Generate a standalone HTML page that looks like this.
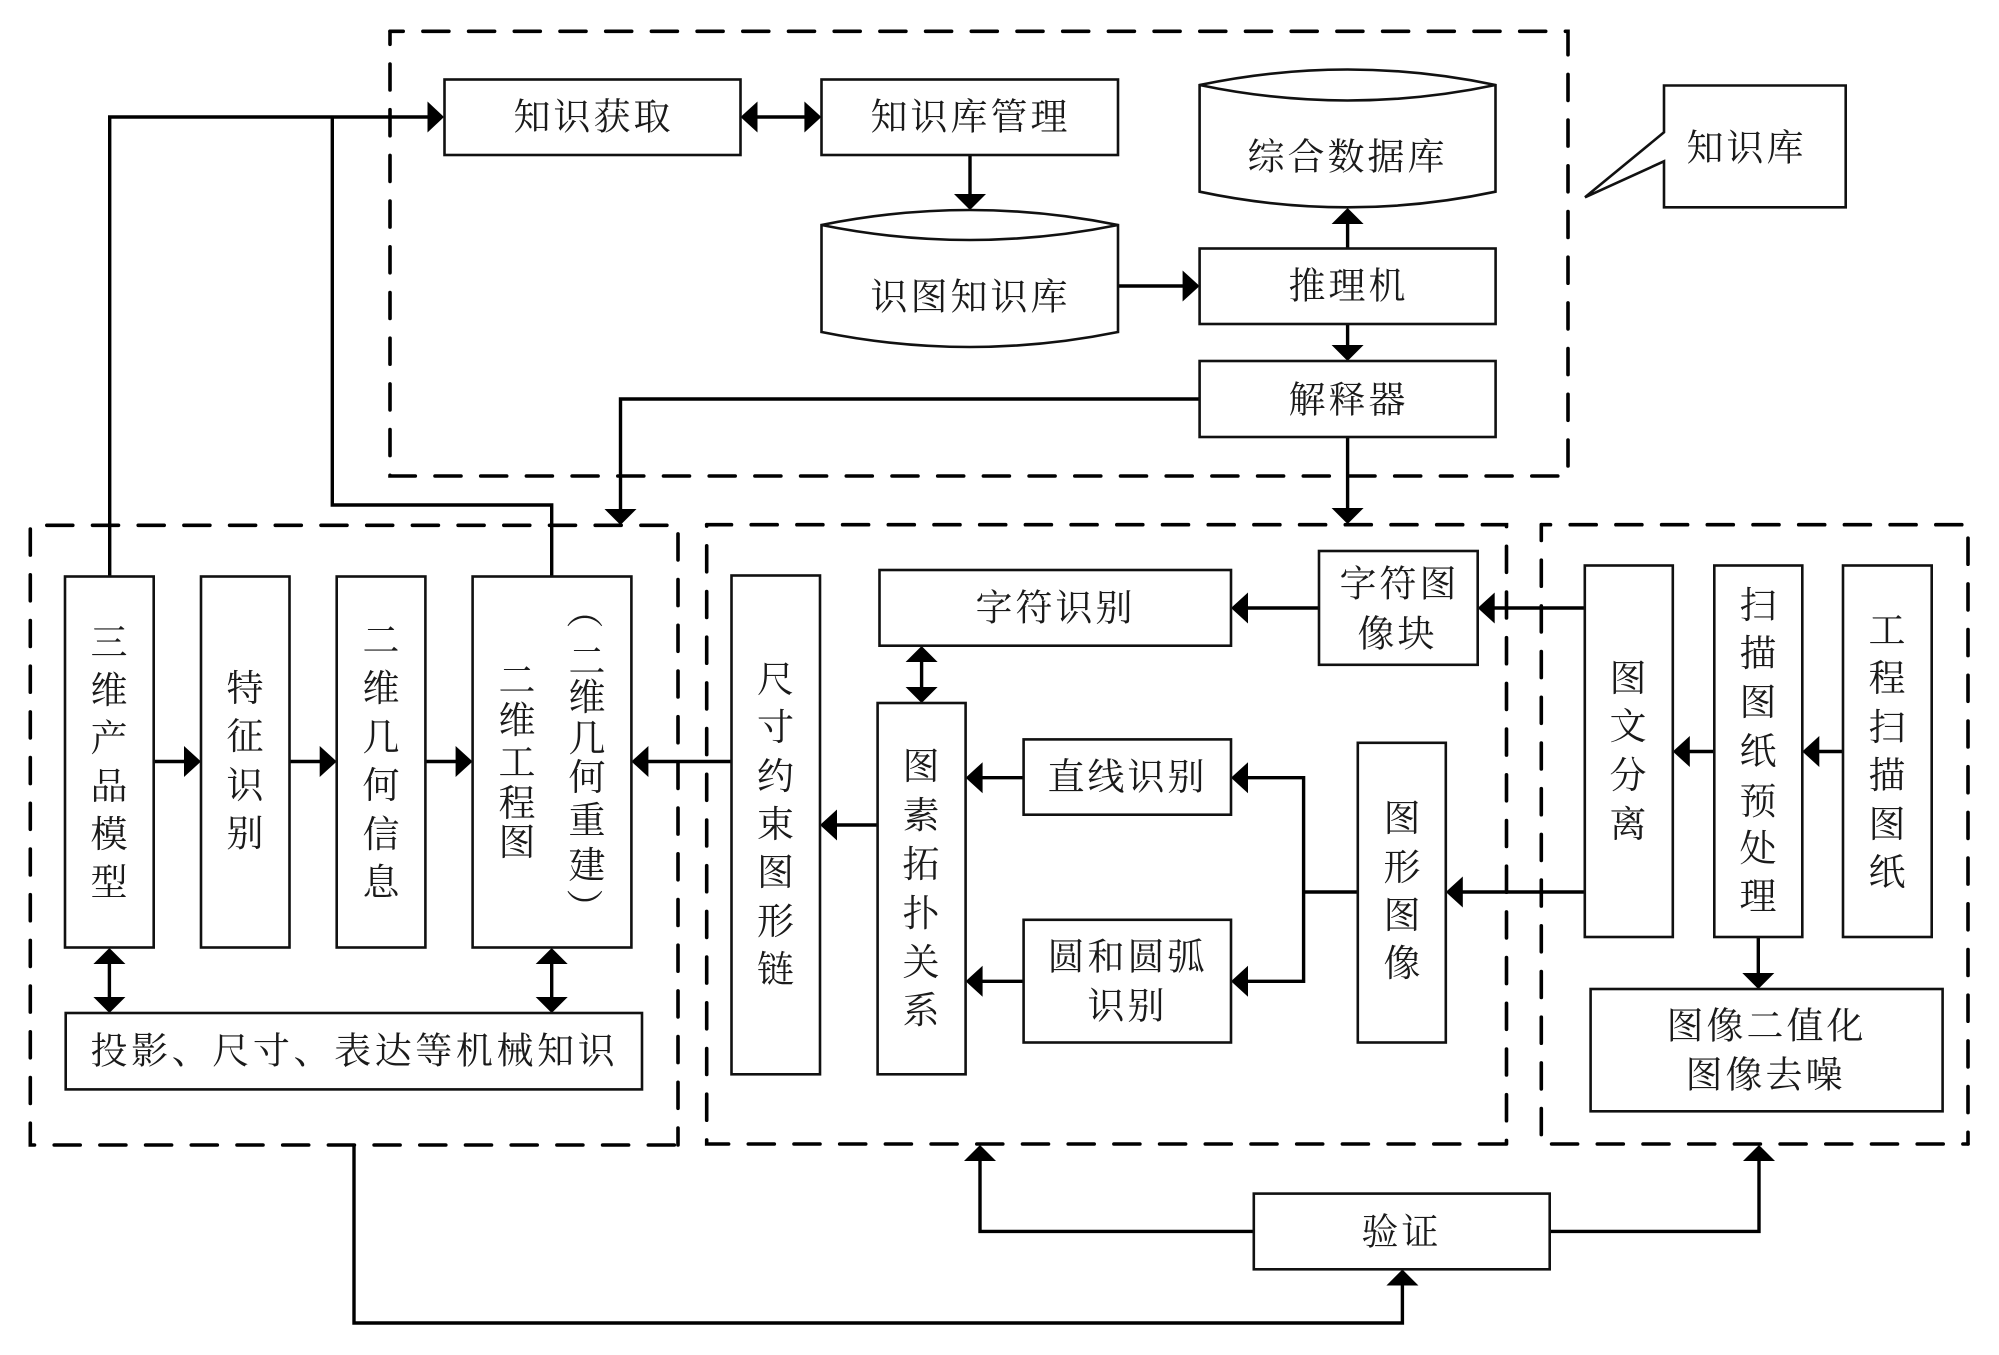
<!DOCTYPE html>
<html><head><meta charset="utf-8"><style>
html,body{margin:0;padding:0;background:#fff}
svg{display:block}
text{font-family:"Noto Serif CJK SC","Liberation Serif",serif;font-size:37px;fill:#1a1a1a;text-anchor:middle;dominant-baseline:central;font-weight:400}
.b{fill:#fff;stroke:#111;stroke-width:2.6}
.c{fill:none;stroke:#000;stroke-width:3.4}
.d{fill:none;stroke:#000;stroke-width:3.6;stroke-dasharray:26 19.7;stroke-linecap:round}
polygon.a{fill:#000}
</style></head><body>
<svg width="1999" height="1355" viewBox="0 0 1999 1355" xmlns="http://www.w3.org/2000/svg">
<rect width="1999" height="1355" fill="#fff"/>
<!-- dashed groups -->
<path class="d" stroke-dashoffset="12.8" d="M390 31.3H1568V476"/>
<path class="d" stroke-dashoffset="13" d="M390 31.3V476H1568"/>
<path class="d" stroke-dashoffset="29.2" d="M30.3 525.3H678V1145"/>
<path class="d" stroke-dashoffset="41.9" d="M30.3 525.3V1145H678"/>
<path class="d" stroke-dashoffset="1.2" d="M706.7 524.7H1506.5V1144"/>
<path class="d" stroke-dashoffset="24.6" d="M706.7 524.7V1144H1506.5"/>
<path class="d" stroke-dashoffset="16.8" d="M1541.3 524.7H1968V1144"/>
<path class="d" stroke-dashoffset="10.2" d="M1541.3 524.7V1144H1968"/>
<!-- connectors -->
<path class="c" d="M109.7 576V117H430"/>
<path class="c" d="M332.3 117V505H551.7V576"/>
<path class="c" d="M745 117H816"/>
<path class="c" d="M970 155V198"/>
<path class="c" d="M1118 286H1185"/>
<path class="c" d="M1347.6 248V222"/>
<path class="c" d="M1347.6 324V348"/>
<path class="c" d="M1199.6 399H620.5V512"/>
<path class="c" d="M1347.6 437V512"/>
<path class="c" d="M153.7 761.5H188"/>
<path class="c" d="M289.5 761.5H324"/>
<path class="c" d="M425.4 761.5H460"/>
<path class="c" d="M731.5 761.5H645"/>
<path class="c" d="M109.4 955V1005"/>
<path class="c" d="M551.7 955V1005"/>
<path class="c" d="M354 1145V1323H1402.4V1282"/>
<path class="c" d="M1253.8 1231.4H980V1158"/>
<path class="c" d="M1549.7 1231.4H1759V1158"/>
<path class="c" d="M877.6 825H833"/>
<path class="c" d="M921.6 655V695"/>
<path class="c" d="M1319 608H1245"/>
<path class="c" d="M1585 608H1490"/>
<path class="c" d="M1023.6 777.7H978"/>
<path class="c" d="M1023.6 981.3H978"/>
<path class="c" d="M1245 777.7H1303.6V981.3H1245"/>
<path class="c" d="M1303.6 892H1357.8"/>
<path class="c" d="M1584.8 892H1458"/>
<path class="c" d="M1714.3 751.5H1685"/>
<path class="c" d="M1843 751.5H1815"/>
<path class="c" d="M1758.3 937V976"/>
<!-- arrowheads -->
<polygon class="a" points="444,117 427.5,101.5 427.5,132.5"/>
<polygon class="a" points="740.5,117 757.5,101.5 757.5,132.5"/>
<polygon class="a" points="821.4,117 804.4,101.5 804.4,132.5"/>
<polygon class="a" points="970,210 954,194 986,194"/>
<polygon class="a" points="1199.6,286 1182.6,270.5 1182.6,301.5"/>
<polygon class="a" points="1347.6,208 1331.6,224 1363.6,224"/>
<polygon class="a" points="1347.6,361 1331.6,345 1363.6,345"/>
<polygon class="a" points="620.5,525 604.5,509 636.5,509"/>
<polygon class="a" points="1347.6,524 1331.6,508 1363.6,508"/>
<polygon class="a" points="201,761.5 184,746 184,777"/>
<polygon class="a" points="336.7,761.5 319.7,746 319.7,777"/>
<polygon class="a" points="472.6,761.5 455.6,746 455.6,777"/>
<polygon class="a" points="631.4,761.5 648.4,746 648.4,777"/>
<polygon class="a" points="109.4,948 93.4,964 125.4,964"/>
<polygon class="a" points="109.4,1013 93.4,997 125.4,997"/>
<polygon class="a" points="551.7,948 535.7,964 567.7,964"/>
<polygon class="a" points="551.7,1013 535.7,997 567.7,997"/>
<polygon class="a" points="1402.4,1269.5 1386.4,1285.5 1418.4,1285.5"/>
<polygon class="a" points="980,1145 964,1161 996,1161"/>
<polygon class="a" points="1759,1145 1743,1161 1775,1161"/>
<polygon class="a" points="820,825 837,809.5 837,840.5"/>
<polygon class="a" points="921.6,646 905.6,662 937.6,662"/>
<polygon class="a" points="921.6,703 905.6,687 937.6,687"/>
<polygon class="a" points="1231,608 1248,592.5 1248,623.5"/>
<polygon class="a" points="1477.7,608 1494.7,592.5 1494.7,623.5"/>
<polygon class="a" points="965.6,777.7 982.6,762.2 982.6,793.2"/>
<polygon class="a" points="965.6,981.3 982.6,965.8 982.6,996.8"/>
<polygon class="a" points="1231,777.7 1248,762.2 1248,793.2"/>
<polygon class="a" points="1231,981.3 1248,965.8 1248,996.8"/>
<polygon class="a" points="1445.8,892 1462.8,876.5 1462.8,907.5"/>
<polygon class="a" points="1672.8,751.5 1689.8,736 1689.8,767"/>
<polygon class="a" points="1802.3,751.5 1819.3,736 1819.3,767"/>
<polygon class="a" points="1758.3,989 1742.3,973 1774.3,973"/>
<!-- boxes -->
<rect class="b" x="444.5" y="79.5" width="296" height="75.5"/>
<rect class="b" x="821.5" y="79.5" width="296.5" height="75.5"/>
<rect class="b" x="1199.6" y="248.5" width="296" height="75.5"/>
<rect class="b" x="1199.6" y="361" width="296" height="76"/>
<path class="b" d="M821.5 225Q970 195 1118 225V332Q970 362 821.5 332Z"/>
<path class="b" d="M821.5 225Q970 255 1118 225"/>
<path class="b" d="M1199.6 85Q1347.5 54 1495.5 85V191.7Q1347.5 223 1199.6 191.7Z"/>
<path class="b" d="M1199.6 85Q1347.5 116 1495.5 85"/>
<path class="b" d="M1664 85.5H1845.7V207.3H1664V161.3L1585 197.3L1664 132.3Z"/>
<rect class="b" x="65" y="576.5" width="88.7" height="371"/>
<rect class="b" x="201" y="576.5" width="88.5" height="371"/>
<rect class="b" x="336.7" y="576.5" width="88.7" height="371"/>
<rect class="b" x="472.6" y="576.5" width="158.8" height="371"/>
<rect class="b" x="65.7" y="1013" width="576.3" height="76.4"/>
<rect class="b" x="731.5" y="575.5" width="88.5" height="498.8"/>
<rect class="b" x="879.5" y="570" width="351.5" height="75.7"/>
<rect class="b" x="877.6" y="703" width="88" height="371.3"/>
<rect class="b" x="1319" y="551" width="158.7" height="113.8"/>
<rect class="b" x="1023.6" y="739.4" width="207.4" height="75.3"/>
<rect class="b" x="1023.6" y="919.8" width="207.4" height="122.7"/>
<rect class="b" x="1357.8" y="742.8" width="88" height="299.7"/>
<rect class="b" x="1584.8" y="565.5" width="88" height="371.5"/>
<rect class="b" x="1714.3" y="565.5" width="88" height="371.5"/>
<rect class="b" x="1843" y="565.5" width="88.7" height="371.5"/>
<rect class="b" x="1590.6" y="989" width="352" height="122.3"/>
<rect class="b" x="1253.8" y="1193.6" width="295.9" height="75.7"/>
<!-- horizontal labels -->
<text x="532 572 612 652" y="113.5">知识获取</text>
<text x="889 929 969 1009 1049" y="113.5">知识库管理</text>
<text x="1266 1306 1346 1386 1426" y="153.5">综合数据库</text>
<text x="889 929 969 1009 1049" y="293.5">识图知识库</text>
<text x="1307 1347 1387" y="282.5">推理机</text>
<text x="1307 1347 1387" y="396.5">解释器</text>
<text x="1705 1745 1785" y="144.5">知识库</text>
<text x="994 1034 1074 1114" y="604.5">字符识别</text>
<text x="1358 1398 1438" y="580.5">字符图</text>
<text x="1376 1416" y="630.5">像块</text>
<text x="1066 1106 1146 1186" y="773.5">直线识别</text>
<text x="1066 1106 1146 1186" y="953.5">圆和圆弧</text>
<text x="1106 1146" y="1002.5">识别</text>
<text x="1685 1725 1765 1805 1845" y="1022.5">图像二值化</text>
<text x="1704 1744 1784 1824" y="1071.5">图像去噪</text>
<text x="1380 1420" y="1228.5">验证</text>
<text x="109 149.6 190.2 230.8 271.4 312 352.6 393.2 433.8 474.4 515 555.6 596.2" y="1047.5">投影、尺寸、表达等机械知识</text>
<!-- vertical labels -->
<text x="109 109 109 109 109 109" y="639 687 735 783 831 879">三维产品模型</text>
<text x="245 245 245 245" y="685 733 782 830">特征识别</text>
<text x="381 381 381 381 381 381" y="637 685 734 782 831 879">二维几何信息</text>
<text x="517 517 517 517 517" y="677 717 759 800 839">二维工程图</text>
<text transform="translate(587 610) rotate(90)">（</text>
<text x="587 587 587 587 587 587" y="658 694 735 774 817 862">二维几何重建</text>
<text transform="translate(587 907) rotate(90)">）</text>
<text x="775.5 775.5 775.5 775.5 775.5 775.5 775.5" y="676 724 773 821 869 918 966">尺寸约束图形链</text>
<text x="921 921 921 921 921 921" y="763 812 861 910 959 1007">图素拓扑关系</text>
<text x="1402 1402 1402 1402" y="815 864 912 960">图形图像</text>
<text x="1628 1628 1628 1628" y="675 723 772 821">图文分离</text>
<text x="1758 1758 1758 1758 1758 1758 1758" y="602 650 699 748 798 845 893">扫描图纸预处理</text>
<text x="1887 1887 1887 1887 1887 1887" y="627 675 724 772 821 869">工程扫描图纸</text>
</svg>
</body></html>
